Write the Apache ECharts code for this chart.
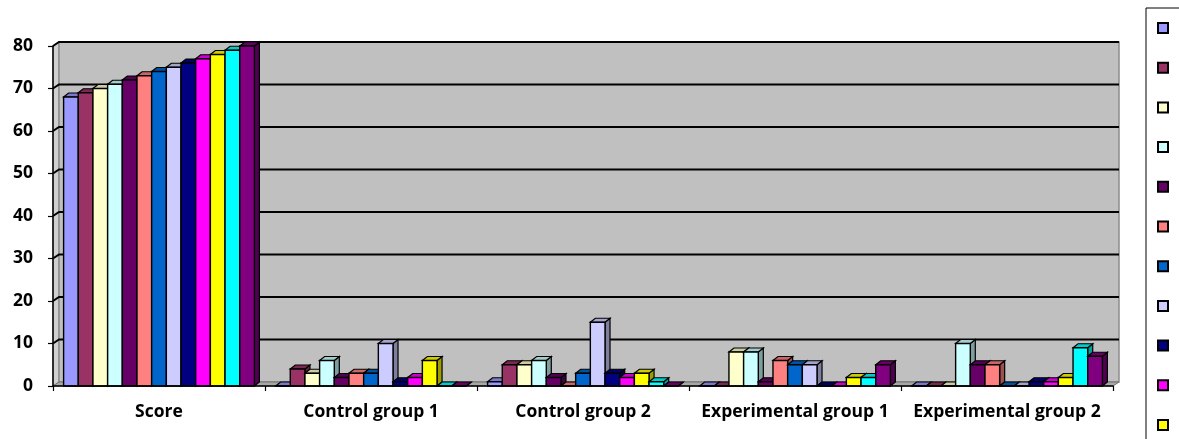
<!DOCTYPE html>
<html>
<head>
<meta charset="utf-8">
<script src="https://cdn.jsdelivr.net/npm/echarts@6/dist/echarts.min.js"></script>
<style>
  html, body { margin: 0; padding: 0; background: #ffffff; }
  #chart { width: 1179px; height: 439px; }
</style>
</head>
<body>
<div id="chart"></div>
<script>
// Groups along the x axis
const categories = ['Score', 'Control group 1', 'Control group 2', 'Experimental group 1', 'Experimental group 2'];

// One series per participant
const seriesNames = ['S1', 'S2', 'S3', 'S4', 'S5', 'S6', 'S7', 'S8', 'S9', 'S10', 'S11', 'S12', 'S13'];
const seriesColors = ['#9999FF', '#993366', '#FFFFCC', '#CCFFFF', '#660066', '#FF8080', '#0066CC',
                      '#CCCCFF', '#000080', '#FF00FF', '#FFFF00', '#00FFFF', '#800080'];

// Values per group, in series order
const scoreValues         = [68, 69, 70, 71, 72, 73, 74, 75, 76, 77, 78, 79, 80];
const control1Values      = [0, 4, 3, 6, 2, 3, 3, 10, 1, 2, 6, 0, 0];
const control2Values      = [1, 5, 5, 6, 2, 0, 3, 15, 3, 2, 3, 1, 0];
const experimental1Values = [0, 0, 8, 8, 1, 6, 5, 5, 0, 0, 2, 2, 5];
const experimental2Values = [0, 0, 0, 10, 5, 5, 0, 0, 1, 1, 2, 9, 7];

// Value axis
const yMin = 0, yMax = 80, yStep = 10;

const groups = [scoreValues, control1Values, control2Values, experimental1Values, experimental2Values];

// Depth of the 3D look
const BAR_DX = 5, BAR_DY = 4;     // bar top / side faces
const WALL_DX = 6, WALL_DY = 4;   // back wall offset
const GROUP_FILL = 0.9;           // share of each category band used by bars

function shade(hex, f) {
  const n = parseInt(hex.slice(1), 16);
  const r = Math.round(((n >> 16) & 255) * f);
  const g = Math.round(((n >> 8) & 255) * f);
  const b = Math.round((n & 255) * f);
  return 'rgb(' + r + ',' + g + ',' + b + ')';
}

// Back wall, side wall, floor and wall gridlines
function renderWall(params, api) {
  const cs = params.coordSys;
  const L = cs.x, R = cs.x + cs.width, T = cs.y, B = cs.y + cs.height;
  const children = [];
  children.push({
    type: 'polygon',
    shape: { points: [[L, T], [L + WALL_DX, T - WALL_DY], [L + WALL_DX, B - WALL_DY], [L, B]] },
    style: { fill: '#D0D0D0', stroke: '#808080', lineWidth: 1 }
  });
  children.push({
    type: 'rect',
    shape: { x: L + WALL_DX, y: T - WALL_DY, width: R - L, height: B - T },
    style: { fill: '#C0C0C0', stroke: '#8C8C8C', lineWidth: 1.5 }
  });
  children.push({
    type: 'polygon',
    shape: { points: [[L, B], [R, B], [R + WALL_DX, B - WALL_DY], [L + WALL_DX, B - WALL_DY]] },
    style: { fill: '#A8A8A8', stroke: '#707070', lineWidth: 1 }
  });
  for (let v = yMin + yStep; v <= yMax; v += yStep) {
    const y = api.coord([0, v])[1];
    children.push({
      type: 'polyline',
      shape: { points: [[L, y], [L + WALL_DX, y - WALL_DY], [R + WALL_DX, y - WALL_DY]] },
      style: { stroke: '#000000', lineWidth: 2, fill: null }
    });
  }
  return { type: 'group', children: children };
}

// A single 3D bar: front face, top face and right side face
function makeBarRenderer(idx) {
  const count = seriesNames.length;
  return function (params, api) {
    const cat = api.value(0);
    const val = api.value(1);
    const base = api.coord([cat, 0]);
    const top = api.coord([cat, val]);
    const band = api.size([1, 0])[0];
    const w = band * GROUP_FILL / count;
    const x0 = base[0] - band * GROUP_FILL / 2 + idx * w;
    const x1 = x0 + w;
    const yb = base[1], yt = top[1];
    const c = seriesColors[idx];
    return {
      type: 'group',
      children: [
        {
          type: 'polygon',
          shape: { points: [[x1, yt], [x1 + BAR_DX, yt - BAR_DY], [x1 + BAR_DX, yb - BAR_DY], [x1, yb]] },
          style: { fill: shade(c, 0.62), stroke: '#000000', lineWidth: 1.2 }
        },
        {
          type: 'polygon',
          shape: { points: [[x0, yt], [x1, yt], [x1 + BAR_DX, yt - BAR_DY], [x0 + BAR_DX, yt - BAR_DY]] },
          style: { fill: shade(c, 0.8), stroke: '#000000', lineWidth: 1.2 }
        },
        {
          type: 'rect',
          shape: { x: x0, y: yt, width: w, height: yb - yt },
          style: { fill: c, stroke: '#000000', lineWidth: 1.4 }
        }
      ]
    };
  };
}

const labelFont = { fontFamily: 'Open Sans', fontWeight: 'bold', fontSize: 17.5, color: '#000000' };

const series = [{
  type: 'custom',
  z: 1,
  silent: true,
  renderItem: renderWall,
  data: [[0, 0]]
}];
seriesNames.forEach(function (name, i) {
  series.push({
    name: name,
    type: 'custom',
    z: 2,
    itemStyle: { color: seriesColors[i] },
    renderItem: makeBarRenderer(i),
    data: groups.map(function (g, ci) { return [ci, g[i]]; })
  });
});

const chart = echarts.init(document.getElementById('chart'), null, { renderer: 'canvas' });
chart.setOption({
  animation: false,
  backgroundColor: '#ffffff',
  grid: { left: 53, right: 66, top: 46, bottom: 53, containLabel: false },
  xAxis: {
    type: 'category',
    data: categories,
    z: 5,
    axisLine: { lineStyle: { color: '#000000', width: 1.5 } },
    axisTick: { show: true, length: 5, lineStyle: { color: '#000000', width: 1.2 } },
    axisLabel: Object.assign({ margin: 17, interval: 0 }, labelFont),
    splitLine: { show: false }
  },
  yAxis: {
    type: 'value',
    min: yMin,
    max: yMax,
    interval: yStep,
    z: 5,
    axisLine: { show: true, lineStyle: { color: '#000000', width: 1.5 } },
    axisTick: { show: true, length: 5, lineStyle: { color: '#000000', width: 1.2 } },
    axisLabel: Object.assign({ margin: 20, padding: [3, 0, 0, 0] }, labelFont),
    splitLine: { show: false }
  },
  legend: {
    orient: 'vertical',
    left: 1146,
    top: 8,
    width: 200,
    height: 560,
    padding: [10, 0, 10, 11],
    itemWidth: 10,
    itemHeight: 10,
    itemGap: 19.7,
    borderColor: '#000000',
    borderWidth: 1,
    icon: 'rect',
    itemStyle: { borderColor: '#000000', borderWidth: 2 },
    textStyle: { fontFamily: 'Open Sans', fontSize: 16, lineHeight: 20, color: '#000000', padding: [0, 0, 0, 16] },
    data: seriesNames
  },
  series: series
});
</script>
</body>
</html>
